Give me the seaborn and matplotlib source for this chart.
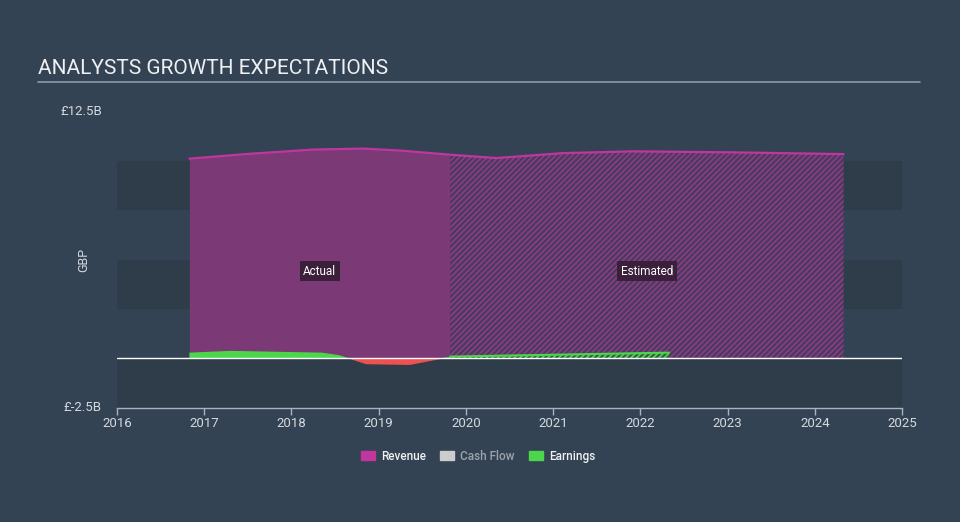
import matplotlib
matplotlib.use("Agg")
import matplotlib.pyplot as plt
import matplotlib.patches as mpatches
import numpy as np
import pandas as pd
import seaborn as sns

# ---- data (values in £ billions) ----
rev_actual_x = [2016.83, 2017.5, 2018.25, 2018.82, 2019.25, 2019.82]
rev_actual_y = [10.11, 10.35, 10.57, 10.62, 10.52, 10.31]
rev_est_x = [2019.82, 2020.35, 2021.11, 2021.91, 2023.06, 2024.33]
rev_est_y = [10.31, 10.14, 10.39, 10.48, 10.43, 10.34]

earn_actual_x = [2016.83, 2017.3, 2018.35, 2018.55, 2018.85, 2019.35, 2019.82]
earn_actual_y = [0.28, 0.37, 0.28, 0.15, -0.28, -0.32, 0.08]
earn_est_x = [2019.82, 2022.33]
earn_est_y = [0.08, 0.28]

year_ticks = [2016, 2017, 2018, 2019, 2020, 2021, 2022, 2023, 2024, 2025]
y_ticks = [-2.5, 12.5]
y_tick_labels = ["£-2.5B", "£12.5B"]
legend_labels = ["Revenue", "Cash Flow", "Earnings"]

BG = "#344353"
BAND = "#2f3d4b"
TXT = "#d5d9de"
REV_LINE = "#c0369e"
REV_FILL = "#7b3976"
EARN = "#4cd64c"
NEG = "#ef5050"
CASH = "#cccccc"

sns.set_theme(style="dark")
plt.rcParams["font.family"] = ["Roboto", "DejaVu Sans"]
plt.rcParams["hatch.linewidth"] = 1.2

fig = plt.figure(figsize=(9.6, 5.22), dpi=100, facecolor=BG)
ax = fig.add_axes([117 / 960, 1 - 407.5 / 522, (902 - 117) / 960, (407.5 - 111.5) / 522])
ax.set_facecolor(BG)

# bands
for lo, hi in [(7.5, 10), (2.5, 5), (-2.5, 0)]:
    ax.axhspan(lo, hi, color=BAND, zorder=0, lw=0)

# revenue
ax.fill_between(rev_actual_x, 0, rev_actual_y, color=REV_FILL, lw=0, zorder=1)
plt.rcParams["hatch.color"] = "#8c3c88"
ax.fill_between(rev_est_x, 0, rev_est_y, facecolor="#4a3a5c", edgecolor="#8c3c88",
                hatch="//////", lw=0, zorder=1)
rev_df = pd.DataFrame({"x": rev_actual_x + rev_est_x[1:], "y": rev_actual_y + rev_est_y[1:]})
sns.lineplot(data=rev_df, x="x", y="y", color=REV_LINE, lw=1.6, ax=ax, zorder=3)

# earnings
ex = np.array(earn_actual_x)
ey = np.array(earn_actual_y)
ax.fill_between(ex, 0, ey, where=ey >= 0, interpolate=True, color=EARN, lw=0, zorder=2)
ax.fill_between(ex, 0, ey, where=ey <= 0, interpolate=True, color=NEG, lw=0, zorder=2)
ax.fill_between(earn_est_x, 0, earn_est_y, facecolor="#3c5a4a", edgecolor=EARN,
                hatch="//////", lw=0, zorder=2)
earn_df = pd.DataFrame({"x": earn_est_x, "y": earn_est_y})
sns.lineplot(data=earn_df, x="x", y="y", color=EARN, lw=1.5, ax=ax, zorder=3)

# zero line
ax.axhline(0, color="white", lw=1.0, zorder=4)

# labels Actual / Estimated
box = dict(boxstyle="square,pad=0.3", fc="#3b1f3b", ec="none")
ax.text((rev_actual_x[0] + rev_actual_x[-1]) / 2, 4.4, "Actual", color="white",
        fontsize=8.5, ha="center", va="center", bbox=box, zorder=5)
ax.text((rev_est_x[0] + rev_est_x[-1]) / 2, 4.4, "Estimated", color="white",
        fontsize=8.5, ha="center", va="center", bbox=box, zorder=5)

ax.set_xlim(2016, 2025)
ax.set_ylim(-2.5, 12.5)
ax.set_xticks(year_ticks)
ax.set_xticklabels([str(y) for y in year_ticks])
ax.set_yticks(y_ticks)
ax.set_yticklabels(y_tick_labels)
ax.tick_params(axis="x", colors="#a9b3bd", labelcolor=TXT, labelsize=9.5,
               length=5, width=1, direction="out", pad=2, bottom=True)
ax.tick_params(axis="y", length=0, labelcolor=TXT, labelsize=9.5, pad=11)
for lbl in ax.get_yticklabels():
    lbl.set_verticalalignment("center")
ax.set_xlabel("")
ax.set_ylabel("GBP", color=TXT, fontsize=9)
ax.yaxis.set_label_coords(-0.0335, 0.5)
ax.grid(False)
for s in ["top", "right", "left"]:
    ax.spines[s].set_visible(False)
ax.spines["bottom"].set_color("#a9b3bd")
ax.spines["bottom"].set_linewidth(1)

# title
fig.text(38 / 960, 1 - 69 / 522, "ANALYSTS GROWTH EXPECTATIONS", color="#eef0f2",
         fontsize=15, ha="left", va="center")
fig.add_artist(plt.Line2D([38 / 960, 920 / 960], [1 - 82 / 522, 1 - 82 / 522],
                          color="#8d99a6", lw=1.2))

# legend
handles = [mpatches.Patch(color=REV_LINE), mpatches.Patch(color=CASH), mpatches.Patch(color=EARN)]
leg = fig.legend(handles, legend_labels, loc="center", bbox_to_anchor=(478 / 960, 1 - 456 / 522),
                 ncol=3, frameon=False, handlelength=1.2, handleheight=0.9,
                 handletextpad=0.5, columnspacing=1.2, fontsize=8.5)
for t, c in zip(leg.get_texts(), ["#f0f0f0", "#9aa3ad", "#f0f0f0"]):
    t.set_color(c)
    t.set_fontweight("medium")

fig.savefig("out.png", dpi=100, facecolor=BG)
